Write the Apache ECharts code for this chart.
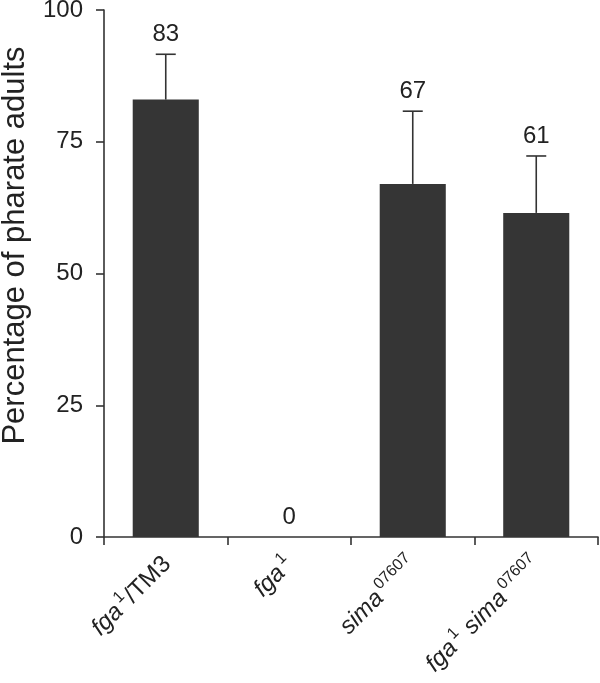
<!DOCTYPE html>
<html>
<head>
<meta charset="utf-8">
<script src="https://cdn.jsdelivr.net/npm/echarts@6/dist/echarts.min.js"></script>
<style>html,body{margin:0;padding:0;background:#fff}#c{width:600px;height:683px}</style>
</head>
<body>
<div id="c"></div>
<script>
var categories = ['fga1/TM3', 'fga1', 'sima07607', 'fga1 sima07607'];
var categoryRich = ['{i|fga}{s|1}{n|/TM3}', '{i|fga}{s|1}', '{i|sima}{s|07607}', '{i|fga}{s|1}{n| }{i|sima}{s|07607}'];
var values = [83, 0, 67, 61.5];
var errorTop = [91.6, 0, 80.8, 72.3];
var valueLabels = ['83', '0', '67', '61'];
var yTicks = [0, 25, 50, 75, 100];

var FONT = 'Liberation Sans';
var chart = echarts.init(document.getElementById('c'), null, {renderer: 'canvas'});
var errData = categories.map(function (c, i) { return [i, values[i], errorTop[i], valueLabels[i]]; });

chart.setOption({
  animation: false,
  grid: {left: 104, right: 2, top: 10, bottom: 146, containLabel: false, outerBoundsMode: 'none'},
  xAxis: {
    type: 'category',
    data: categories,
    axisLine: {lineStyle: {color: '#333', width: 1.6}},
    axisTick: {show: true, interval: 0, length: 8, lineStyle: {color: '#333', width: 1.6}},
    axisLabel: {
      interval: 0, rotate: 45, margin: 22,
      formatter: function (v, idx) { return categoryRich[idx]; },
      rich: {
        i: {fontFamily: FONT, fontStyle: 'italic', fontSize: 24, color: '#222', lineHeight: 28, verticalAlign: 'bottom'},
        n: {fontFamily: FONT, fontSize: 24, color: '#222', lineHeight: 28, verticalAlign: 'bottom'},
        s: {fontFamily: FONT, fontSize: 16, color: '#222', lineHeight: 16, verticalAlign: 'top', padding: [0, 1, 0, 3]}
      }
    }
  },
  yAxis: {
    type: 'value', min: 0, max: 100, interval: 25,
    name: 'Percentage of pharate adults',
    nameLocation: 'middle', nameGap: 73,
    nameTextStyle: {fontFamily: FONT, fontSize: 31, color: '#222', padding: [0, 0, 0, 56]},
    axisLine: {show: true, lineStyle: {color: '#333', width: 1.6}},
    axisTick: {show: true, length: 8, lineStyle: {color: '#333', width: 1.6}},
    axisLabel: {fontFamily: FONT, fontSize: 24, color: '#222', margin: 21,
      formatter: function (v) { return yTicks.indexOf(v) >= 0 ? String(v) : ''; }},
    splitLine: {show: false}
  },
  series: [
    {
      type: 'bar', data: values, barWidth: '53.5%',
      itemStyle: {color: '#353535'}, z: 2
    },
    {
      type: 'custom', data: errData, z: 3,
      renderItem: function (params, api) {
        var x = api.coord([api.value(0), 0])[0];
        var yb = api.coord([api.value(0), api.value(1)])[1];
        var yt = api.coord([api.value(0), api.value(2)])[1];
        var children = [];
        if (api.value(2) > api.value(1)) {
          children.push({type: 'line', shape: {x1: x, y1: yb, x2: x, y2: yt}, style: {stroke: '#333', lineWidth: 1.6}});
          children.push({type: 'line', shape: {x1: x - 10, y1: yt, x2: x + 10, y2: yt}, style: {stroke: '#333', lineWidth: 1.6}});
        }
        children.push({type: 'text', x: x, y: yt - 20, style: {text: errData[params.dataIndex][3], fontFamily: FONT, fontSize: 24, fill: '#222', align: 'center', verticalAlign: 'middle'}});
        return {type: 'group', children: children};
      }
    }
  ]
});
</script>
</body>
</html>
